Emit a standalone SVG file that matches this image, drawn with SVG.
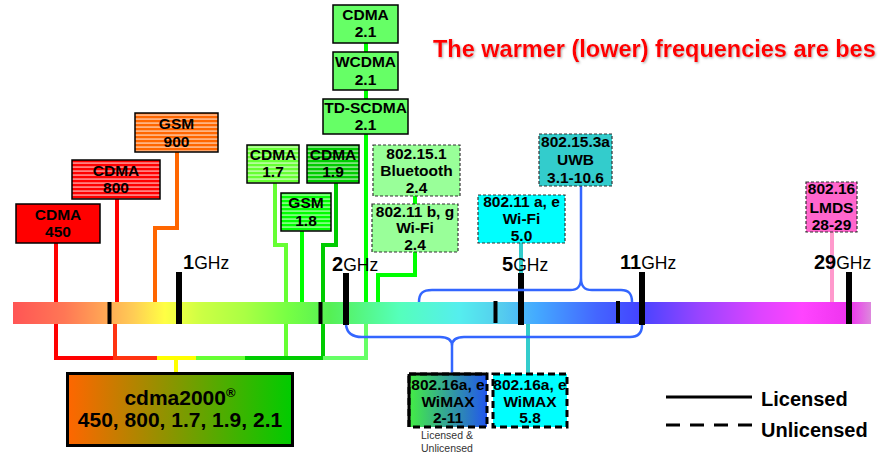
<svg xmlns="http://www.w3.org/2000/svg" width="879" height="453" viewBox="0 0 879 453">
<style>
text{font-family:"Liberation Sans",Arial,sans-serif;}
.bl{font-weight:bold;font-size:15.5px;text-anchor:middle;fill:#000;}
.solid{stroke:#000;stroke-width:1.5;}
.dash{stroke:#333;stroke-width:1.2;stroke-dasharray:3 2;}
.wmx{stroke:#000;stroke-width:3;stroke-dasharray:7 4;}
.ln{fill:none;stroke-width:4;}
.br{fill:none;stroke:#3366ff;stroke-width:2.5;}
.tick{fill:#000;}
.ghzb{font-weight:bold;font-size:20px;}
.ghz{font-size:17.5px;}
.leg{font-weight:bold;font-size:20px;}
</style>
<defs>
<linearGradient id="bar" x1="13" y1="0" x2="871" y2="0" gradientUnits="userSpaceOnUse">
<stop offset="0" stop-color="#ff5555"/>
<stop offset="0.06" stop-color="#ff7755"/>
<stop offset="0.11" stop-color="#ffaa55"/>
<stop offset="0.14" stop-color="#ffcc55"/>
<stop offset="0.177" stop-color="#ffff44"/>
<stop offset="0.22" stop-color="#ccff44"/>
<stop offset="0.27" stop-color="#aaff44"/>
<stop offset="0.32" stop-color="#77ff44"/>
<stop offset="0.37" stop-color="#55f055"/>
<stop offset="0.45" stop-color="#55ffbb"/>
<stop offset="0.52" stop-color="#55eeee"/>
<stop offset="0.57" stop-color="#55ccee"/>
<stop offset="0.61" stop-color="#44aaff"/>
<stop offset="0.68" stop-color="#4466ff"/>
<stop offset="0.73" stop-color="#4444ff"/>
<stop offset="0.80" stop-color="#9944ff"/>
<stop offset="0.87" stop-color="#dd44ff"/>
<stop offset="0.92" stop-color="#ff44ff"/>
<stop offset="0.975" stop-color="#ee33ee"/>
<stop offset="1" stop-color="#dd88dd"/>
</linearGradient>
<linearGradient id="cdg" x1="0" y1="0" x2="1" y2="0">
<stop offset="0" stop-color="#ff6600"/>
<stop offset="1" stop-color="#00cc00"/>
</linearGradient>
<linearGradient id="wmg" x1="0" y1="0" x2="1" y2="0">
<stop offset="0" stop-color="#44ee44"/>
<stop offset="1" stop-color="#2255ee"/>
</linearGradient>
<pattern id="stR" width="8" height="4" patternUnits="userSpaceOnUse"><rect width="8" height="4" fill="#ff0000"/><rect y="2.6" width="8" height="0.9" fill="#fff"/></pattern>
<pattern id="stO" width="8" height="4" patternUnits="userSpaceOnUse"><rect width="8" height="4" fill="#ff6600"/><rect y="2.6" width="8" height="0.9" fill="#fff"/></pattern>
<pattern id="stL" width="8" height="4" patternUnits="userSpaceOnUse"><rect width="8" height="4" fill="#66ff33"/><rect y="2.6" width="8" height="0.9" fill="#fff"/></pattern>
<pattern id="stG" width="8" height="4" patternUnits="userSpaceOnUse"><rect width="8" height="4" fill="#00ff00"/><rect y="2.6" width="8" height="0.9" fill="#fff"/></pattern>
<pattern id="stD" width="8" height="4" patternUnits="userSpaceOnUse"><rect width="8" height="4" fill="#00cc00"/><rect y="2.6" width="8" height="0.9" fill="#fff"/></pattern>
<filter id="sh" x="-5%" y="-30%" width="110%" height="160%"><feDropShadow dx="1" dy="1.2" stdDeviation="0.8" flood-color="#777" flood-opacity="0.6"/></filter>
</defs>

<text x="433" y="57" font-weight="bold" font-size="23.5" fill="#ff0000" filter="url(#sh)">The warmer (lower) frequencies are bes</text>

<g id="connectors">
<path class="ln" stroke="#ff0000" d="M56,243 V358 H117"/>
<path class="ln" stroke="#ff0000" d="M117,199 V304"/>
<path class="ln" stroke="#ff3311" d="M115,320 V358 H172"/>
<path class="ln" stroke="#ff6600" d="M177,152 V228 H155 V304"/>
<path class="ln" stroke="#ffff00" d="M157,358 H198 M176,358 V374"/>
<path class="ln" stroke="#66ff33" d="M275,183 V245 H286 V358 H196"/>
<path class="ln" stroke="#00cc00" d="M336,183 V245 H323 V358 H245"/>
<path class="ln" stroke="#00ff00" d="M302,231 V304"/>
<path class="ln" stroke="#00ff00" d="M366,43 V304"/>
<path class="ln" stroke="#66ff66" d="M366,320 V358 H323"/>
<path class="ln" stroke="#00ff00" d="M415,196 V204 M415,252 V275 H378 V304"/>
<path class="ln" stroke="#33cccc" d="M521,243 V274"/>
<path class="ln" stroke="#33cccc" d="M528,322 V374"/>
<path class="ln" stroke="#ff99cc" stroke-width="5" d="M832,232 V303"/>
</g>

<g id="spectrum">
<rect x="13" y="302" width="858" height="22" fill="url(#bar)"/>
<rect class="tick" x="107.5" y="302" width="4" height="22"/>
<rect class="tick" x="318.5" y="302" width="4" height="22"/>
<rect class="tick" x="493.5" y="301" width="4" height="22"/>
<rect class="tick" x="616" y="301" width="4" height="22"/>
<rect class="tick" x="176" y="272" width="6" height="52"/>
<rect class="tick" x="343" y="273" width="6" height="52"/>
<rect class="tick" x="518" y="273" width="6" height="52"/>
<rect class="tick" x="639" y="272" width="6" height="53"/>
<rect class="tick" x="846" y="272" width="6" height="52"/>
<text x="183" y="269"><tspan class="ghzb">1</tspan><tspan class="ghz">GHz</tspan></text>
<text x="332" y="271"><tspan class="ghzb">2</tspan><tspan class="ghz">GHz</tspan></text>
<text x="502" y="271"><tspan class="ghzb">5</tspan><tspan class="ghz">GHz</tspan></text>
<text x="620" y="269"><tspan class="ghzb">11</tspan><tspan class="ghz">GHz</tspan></text>
<text x="814" y="269"><tspan class="ghzb">29</tspan><tspan class="ghz">GHz</tspan></text>
</g>

<g id="braces">
<path class="br" d="M419,302 C419,293 423,290 432,290 H570 C578,290 581,286 581,278 C581,286 584,290 592,290 H621 C629,290 632,294 632,302"/>
<path class="br" d="M581,186 V278"/>
<path class="br" d="M346,325 C347,333 352,337 362,337 H440 C448,337 452,340 452,346 C452,340 456,337 464,337 H630 C638,337 642,333 642,325"/>
<path class="br" d="M452,346 V374"/>
</g>

<g id="cdma450"><rect x="16" y="204" width="84" height="39" fill="#ff0000" class="solid"/><text class="bl" x="58" y="220">CDMA</text><text class="bl" x="58" y="237">450</text></g>
<g id="cdma800"><rect x="72" y="160" width="88" height="39" fill="url(#stR)" class="solid"/><text class="bl" x="116" y="176">CDMA</text><text class="bl" x="116" y="193">800</text></g>
<g id="gsm900"><rect x="135" y="113" width="83" height="39" fill="url(#stO)" class="solid"/><text class="bl" x="176.5" y="129">GSM</text><text class="bl" x="176.5" y="147">900</text></g>
<g id="cdma17"><rect x="247" y="145" width="52" height="38" fill="url(#stL)" class="solid"/><text class="bl" x="273" y="160">CDMA</text><text class="bl" x="273" y="177">1.7</text></g>
<g id="cdma19"><rect x="307" y="145" width="52" height="38" fill="url(#stD)" class="solid"/><text class="bl" x="333" y="160">CDMA</text><text class="bl" x="333" y="177">1.9</text></g>
<g id="gsm18"><rect x="281" y="193" width="50" height="38" fill="url(#stG)" class="solid"/><text class="bl" x="306" y="208">GSM</text><text class="bl" x="306" y="226">1.8</text></g>
<g id="cdma21"><rect x="333" y="5" width="65" height="38" fill="#66ff66" class="solid"/><text class="bl" x="365.5" y="20">CDMA</text><text class="bl" x="365.5" y="37">2.1</text></g>
<g id="wcdma21"><rect x="333" y="52" width="65" height="38" fill="#66ff66" class="solid"/><text class="bl" x="365.5" y="67">WCDMA</text><text class="bl" x="365.5" y="85">2.1</text></g>
<g id="tdscdma21"><rect x="323" y="99" width="85" height="35" fill="#66ff66" class="solid"/><text class="bl" x="365.5" y="113">TD-SCDMA</text><text class="bl" x="365.5" y="130">2.1</text></g>
<g id="bluetooth"><rect x="373" y="145" width="87" height="51" fill="#99ff99" class="dash"/><text class="bl" x="416.5" y="159">802.15.1</text><text class="bl" x="416.5" y="176">Bluetooth</text><text class="bl" x="416.5" y="193">2.4</text></g>
<g id="wifi24"><rect x="372" y="204" width="86" height="48" fill="#99ff99" class="dash"/><text class="bl" x="415" y="217">802.11 b, g</text><text class="bl" x="415" y="233">Wi-Fi</text><text class="bl" x="415" y="250">2.4</text></g>
<g id="wifi50"><rect x="478" y="195" width="87" height="48" fill="#00ffff" class="dash"/><text class="bl" x="521.5" y="207">802.11 a, e</text><text class="bl" x="521.5" y="224">Wi-Fi</text><text class="bl" x="521.5" y="241">5.0</text></g>
<g id="uwb"><rect x="539" y="134" width="73" height="52" fill="#33cccc" class="dash"/><text class="bl" x="575.5" y="147">802.15.3a</text><text class="bl" x="575.5" y="165">UWB</text><text class="bl" x="575.5" y="183">3.1-10.6</text></g>
<g id="lmds"><rect x="806" y="182" width="51" height="50" fill="#ff66cc" class="dash"/><text class="bl" x="831.5" y="194">802.16</text><text class="bl" x="831.5" y="213">LMDS</text><text class="bl" x="831.5" y="230">28-29</text></g>
<g id="wimax211"><rect x="409" y="374" width="78" height="53" fill="url(#wmg)" class="wmx"/><path d="M409,374 H487 M409,374 V427" stroke="#000" stroke-width="3" fill="none"/><text class="bl" x="448" y="390">802.16a, e</text><text class="bl" x="448" y="407">WiMAX</text><text class="bl" x="448" y="423">2-11</text><text x="447" y="439" font-size="10.5" text-anchor="middle" fill="#333">Licensed &amp;</text><text x="447" y="452" font-size="10.5" text-anchor="middle" fill="#333">Unlicensed</text></g>
<g id="wimax58"><rect x="493" y="374" width="74" height="53" fill="#00ffff" class="wmx"/><text class="bl" x="530" y="390">802.16a, e</text><text class="bl" x="530" y="407">WiMAX</text><text class="bl" x="530" y="423">5.8</text></g>
<g id="cdma2000"><rect x="67.5" y="373.5" width="225" height="72" fill="url(#cdg)" stroke="#000" stroke-width="3"/><text x="180" y="405" font-weight="bold" font-size="21" text-anchor="middle">cdma2000<tspan font-size="13" dy="-8">®</tspan></text><text x="180" y="427" font-weight="bold" font-size="21" text-anchor="middle">450, 800, 1.7, 1.9, 2.1</text></g>

<g id="legend">
<path d="M666,397 H752" stroke="#000" stroke-width="3"/>
<path d="M666,425 H752" stroke="#000" stroke-width="3" stroke-dasharray="14 10"/>
<text class="leg" x="761" y="406">Licensed</text>
<text class="leg" x="761" y="437">Unlicensed</text>
</g>
</svg>
